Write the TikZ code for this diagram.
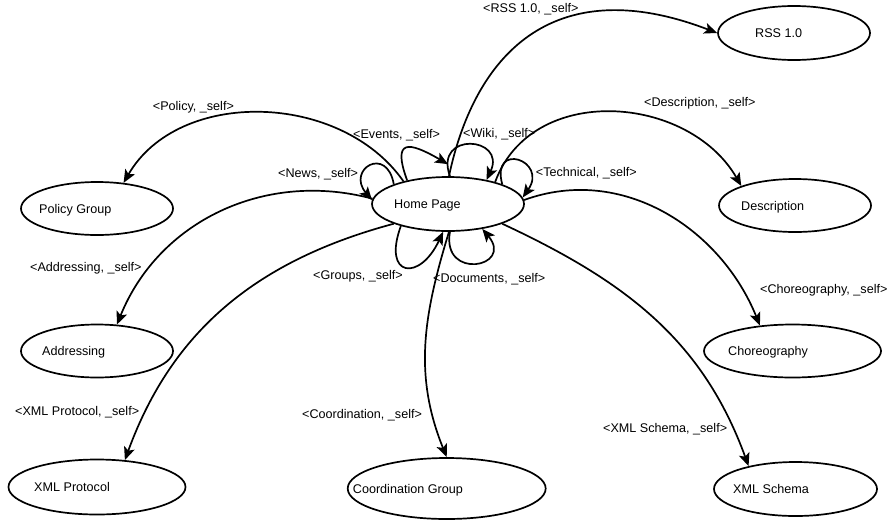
\documentclass[tikz,border=0pt]{standalone}
\usepackage{fontspec}
\setmainfont{Liberation Sans}
\usetikzlibrary{shapes.geometric,arrows.meta}

\tikzset{
  page/.style={draw, ellipse, line width=1.7pt, minimum width=152pt, minimum height=54pt, inner sep=0pt},
  pagetext/.style={anchor=west, inner sep=0pt, text height=9pt, text depth=0pt},
  link/.style={line width=1.7pt, -{Stealth[length=13pt,width=11pt,inset=3pt]}},
  linktext/.style={anchor=base west, inner sep=0pt}
}

\begin{document}
\begin{tikzpicture}[x=1pt, y=-1pt, font=\fontsize{12.6}{15}\selectfont]
\useasboundingbox (0,0) rectangle (890,525);

% Pages
\node[page] (home) at (448,204) {};
\node[page, minimum height=53pt] (policy) at (97,208.5) {};
\node[page, minimum height=53pt] (address) at (97,351) {};
\node[page, minimum width=177pt, minimum height=55pt] (xmlp) at (97,487) {};
\node[page, minimum width=198pt, minimum height=61pt] (coord) at (446.7,488.5) {};
\node[page] (rss) at (794,33) {};
\node[page, minimum height=53pt] (desc) at (795,205.5) {};
\node[page, minimum width=177pt, minimum height=53pt] (chor) at (792.5,351) {};
\node[page, minimum width=163pt] (xmls) at (795.5,489) {};

% Page titles
\node[pagetext] (hometext) at ([xshift=-54pt]home.center) {Home Page};
\node[pagetext] (policytext) at ([xshift=-58pt]policy.center) {Policy Group};
\node[pagetext] (addresstext) at ([xshift=-55pt]address.center) {Addressing};
\node[pagetext] (xmlptext) at ([xshift=-63pt]xmlp.center) {XML Protocol};
\node[pagetext] (coordtext) at ([xshift=-94pt]coord.center) {Coordination Group};
\node[pagetext] (rsstext) at ([xshift=-39pt]rss.center) {RSS 1.0};
\node[pagetext] (desctext) at ([xshift=-54pt]desc.center) {Description};
\node[pagetext] (chortext) at ([xshift=-64.5pt]chor.center) {Choreography};
\node[pagetext] (xmlstext) at ([xshift=-62.5pt]xmls.center) {XML Schema};

% Links to other pages
\draw[link] (home.153) to[out=125, in=60] (policy.44);
\draw[link] (home.176) to[out=165, in=68] (address.53);
\draw[link] (home.200) to[out=195, in=70] (xmlp.44);
\draw[link] (home.-88) to[out=-107, in=112] (coord.north);
\draw[link] (home.-20) to[out=-25, in=110] (xmls.154);
\draw[link] (home.3) to[out=20, in=112] (chor.142);
\draw[link] (home.25) to[out=70, in=120, looseness=1.1] (desc.160);
\draw[link] (home.88) to[out=78, in=159, out looseness=1.1, in looseness=1.43] (rss.west);

% Links back to the home page
\coordinate (evtip) at ([yshift=12pt]home.north);
\draw[link] (home.160) to[out=100, in=130, min distance=40pt] (home.177);
\draw[link] (home.150) to[out=110, in=150, min distance=45pt] (evtip);
\draw[link] (home.86) to[out=110, in=65, min distance=48pt] (home.32);
\draw[link] (home.20) to[out=105, in=55, min distance=45pt] (home.5);
\draw[link] (home.205) to[out=-110, in=-115, min distance=55pt] (home.-100);
\draw[link] (home.-86) to[out=-100, in=-50, min distance=50pt] (home.-36);

% Link labels
\node[linktext] (lpolicy) at (152.7,110.5) {<Policy, \_self>};
\node[linktext] (lnews) at (278,177.5) {<News, \_self>};
\node[linktext] (levents) at (353,138) {<Events, \_self>};
\node[linktext] (lwiki) at (463,137.5) {<Wiki, \_self>};
\node[linktext] (ltech) at (535.7,176.5) {<Technical, \_self>};
\node[linktext] (lrss) at (483,12) {<RSS 1.0, \_self>};
\node[linktext] (ldesc) at (644,106.5) {<Description, \_self>};
\node[linktext] (lchor) at (760,293.5) {<Choreography, \_self>};
\node[linktext] (lxmls) at (603,432) {<XML Schema, \_self>};
\node[linktext] (lcoord) at (302,418.5) {<Coordination, \_self>};
\node[linktext] (lxmlp) at (15,415.5) {<XML Protocol, \_self>};
\node[linktext] (laddress) at (30,271) {<Addressing, \_self>};
\node[linktext] (lgroups) at (313,279.5) {<Groups, \_self>};
\node[linktext] (ldocs) at (433,282.5) {<Documents, \_self>};
\end{tikzpicture}
\end{document}
